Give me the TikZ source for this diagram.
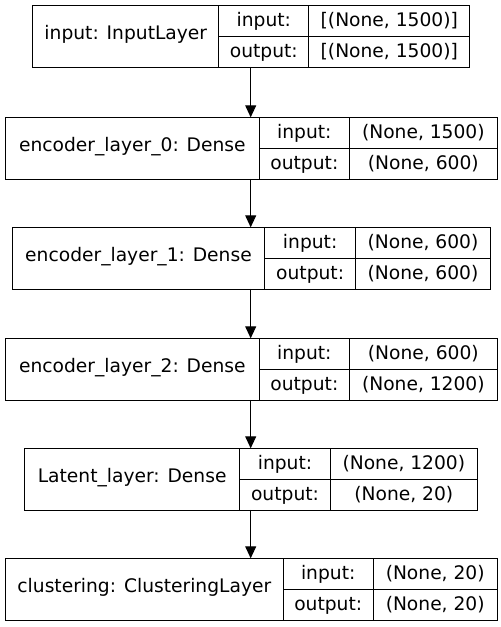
\documentclass[tikz,border=0pt]{standalone}
\usepackage{fontspec}
\setmainfont{DejaVu Sans}
\usetikzlibrary{arrows.meta}
\tikzset{
  cell/.style={draw=black, line width=1pt, inner sep=0pt, anchor=north west,
    font=\fontsize{18.67}{22}\selectfont, text=black, text height=14pt, text depth=3.4pt},
  namecell/.style={cell, text depth=8.2pt},
  link/.style={draw=black, line width=1pt, -{Triangle[length=12pt,width=11pt]}}
}
% #1 name, #2 top, #3 x0, #4 x1, #5 x2, #6 x3, #7 label, #8 in, #9 out
\newcommand\kbox[9]{%
  \node[namecell, minimum width={#4pt-#3pt}, minimum height=61.5pt] (#1) at (#3pt,-#2pt) {#7};
  \node[cell, minimum width={#5pt-#4pt}, minimum height=30.75pt] (#1-il) at (#4pt,-#2pt) {input:};
  \node[cell, minimum width={#6pt-#5pt}, minimum height=30.75pt] (#1-iv) at (#5pt,-#2pt) {#8};
  \node[cell, minimum width={#5pt-#4pt}, minimum height=30.75pt] (#1-ol) at (#4pt,{-#2pt-30.75pt}) {output:};
  \node[cell, minimum width={#6pt-#5pt}, minimum height=30.75pt] (#1-ov) at (#5pt,{-#2pt-30.75pt}) {#9};
  \coordinate (#1-top) at (250.7pt,-#2pt);
  \coordinate (#1-bot) at (250.7pt,{-#2pt-61.5pt});
}
\begin{document}
\begin{tikzpicture}
\useasboundingbox (0,0) rectangle (501pt,-627pt);
\kbox{b1}{5.3}{32.3}{218.3}{308.3}{469.3}{input: InputLayer}{[(None, 1500)]}{[(None, 1500)]}
\kbox{b2}{117.3}{5}{258.7}{349}{496.7}{encoder\_layer\_0: Dense}{(None, 1500)}{(None, 600)}
\kbox{b3}{227.3}{11.7}{264.3}{355}{490}{encoder\_layer\_1: Dense}{(None, 600)}{(None, 600)}
\kbox{b4}{338.3}{5}{258.7}{349}{496.7}{encoder\_layer\_2: Dense}{(None, 600)}{(None, 1200)}
\kbox{b5}{448.3}{24.3}{239}{330}{476.7}{Latent\_layer: Dense}{(None, 1200)}{(None, 20)}
\kbox{b6}{558.3}{5}{282.7}{372.7}{496.7}{clustering: ClusteringLayer}{(None, 20)}{(None, 20)}
\draw[link] (b1-bot) -- (b2-top);
\draw[link] (b2-bot) -- (b3-top);
\draw[link] (b3-bot) -- (b4-top);
\draw[link] (b4-bot) -- (b5-top);
\draw[link] (b5-bot) -- (b6-top);
\end{tikzpicture}
\end{document}
